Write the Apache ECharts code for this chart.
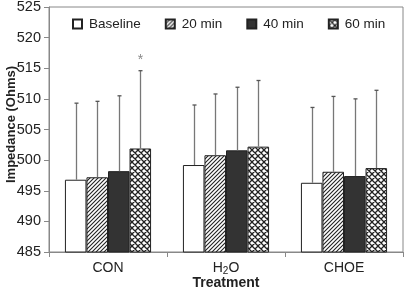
<!DOCTYPE html>
<html><head><meta charset="utf-8">
<script src="https://cdn.jsdelivr.net/npm/echarts@6/dist/echarts.min.js"></script>
<style>html,body{margin:0;padding:0;background:#fff}#c{width:405px;height:290px}</style>
</head><body><div id="c"></div>
<script>
// ---- data ----
const categories = ['CON', 'H2O', 'CHOE'];
const seriesNames = ['Baseline', '20 min', '40 min', '60 min'];
const baseline = [496.8, 499.2, 496.3];
const min20 = [497.2, 500.8, 498.1];
const min40 = [498.2, 501.6, 497.4];
const min60 = [501.9, 502.2, 498.7];
// upper end of error bars
const errBaseline = [509.3, 509.0, 508.6];
const err20 = [509.6, 510.8, 510.4];
const err40 = [510.5, 511.9, 510.0];
const err60 = [514.6, 513.0, 511.4];
const sig60 = ['*', '', ''];
const yTicks = { min: 485, max: 525, interval: 5 };

// ---- patterns ----
function makeHatch() {
  const c = document.createElement('canvas'); c.width = 4; c.height = 4;
  const g = c.getContext('2d');
  g.fillStyle = '#fff'; g.fillRect(0, 0, 4, 4);
  g.strokeStyle = '#222'; g.lineWidth = 1.1;
  g.beginPath();
  g.moveTo(-1, 5); g.lineTo(5, -1);
  g.moveTo(-1, 1); g.lineTo(1, -1);
  g.moveTo(3, 5); g.lineTo(5, 3);
  g.stroke();
  return { image: c, repeat: 'repeat' };
}
function makeCross() {
  const c = document.createElement('canvas'); c.width = 6; c.height = 6;
  const g = c.getContext('2d');
  g.fillStyle = '#fff'; g.fillRect(0, 0, 6, 6);
  g.strokeStyle = '#222'; g.lineWidth = 1.3;
  g.beginPath();
  g.moveTo(-1, 7); g.lineTo(7, -1);
  g.moveTo(-1, -1); g.lineTo(7, 7);
  g.moveTo(-1, 1); g.lineTo(1, -1);
  g.moveTo(5, 7); g.lineTo(7, 5);
  g.moveTo(5, -1); g.lineTo(7, 1);
  g.moveTo(-1, 5); g.lineTo(1, 7);
  g.stroke();
  return { image: c, repeat: 'repeat' };
}
const fills = ['#ffffff', makeHatch(), '#333333', makeCross()];
const means = [baseline, min20, min40, min60];
const errs = [errBaseline, err20, err40, err60];
const GAP = 0.27;

const chart = echarts.init(document.getElementById('c'), null, { renderer: 'canvas' });
const FONT = '"Liberation Sans", Arial, sans-serif';

const series = [];
seriesNames.forEach((name, s) => {
  series.push({
    name, type: 'bar', data: means[s], barGap: 0, barCategoryGap: (GAP * 100) + '%',
    itemStyle: { color: fills[s], borderColor: '#222', borderWidth: 1 },
    z: 2
  });
});
const errData = [];
seriesNames.forEach((name, s) => {
  categories.forEach((c, i) => errData.push([i, s, errs[s][i], means[s][i]]));
});
series.push({
  type: 'custom', z: 5, silent: true,
  data: errData,
  encode: { x: 0, y: 2 },
  renderItem(params, api) {
    const i = api.value(0), s = api.value(1), top = api.value(2), mean = api.value(3);
    const bandW = api.size([1, 0])[0];
    const bw = bandW * (1 - GAP) / 4;
    const p0 = api.coord([i, mean]);
    const p1 = api.coord([i, top]);
    const cx = Math.round(p0[0] + (s - 1.5) * bw) + 0.5;
    const children = [
      { type: 'line', shape: { x1: cx, y1: p0[1], x2: cx, y2: p1[1] }, style: { stroke: '#777', lineWidth: 1.3 } },
      { type: 'line', shape: { x1: cx - 2, y1: p1[1], x2: cx + 2, y2: p1[1] }, style: { stroke: '#555', lineWidth: 1.3 } }
    ];
    if (s === 3 && sig60[i]) {
      children.push({ type: 'text', x: cx, y: p1[1] - 11, style: { text: sig60[i], fill: '#888', font: '14px ' + FONT, align: 'center', verticalAlign: 'middle' } });
    }
    return { type: 'group', children };
  }
});

chart.setOption({
  animation: false,
  textStyle: { fontFamily: FONT },
  grid: { left: 49, right: 2, top: 7, bottom: 38, show: true, borderColor: '#888', borderWidth: 1, containLabel: false, outerBoundsMode: 'none' },
  legend: {
    data: seriesNames, left: 67, top: 12, itemWidth: 9, itemHeight: 9, itemGap: 24,
    icon: 'rect',
    textStyle: { fontSize: 13.5, color: '#222', fontFamily: FONT, padding: [0, 0, 0, 2] }
  },
  xAxis: {
    type: 'category', data: categories,
    name: 'Treatment', nameLocation: 'middle', nameGap: 24, nameMoveOverlap: false,
    nameTextStyle: { fontSize: 14, fontWeight: 'bold', color: '#222', fontFamily: FONT },
    axisLine: { lineStyle: { color: '#888' } },
    axisTick: { show: true, inside: false, length: 5, lineStyle: { color: '#888' } },
    axisLabel: {
      fontSize: 14, color: '#222', margin: 8,
      formatter: v => v === 'H2O' ? '{a|H}{s|2}{a|O}' : '{a|' + v + '}',
      rich: {
        a: { fontSize: 14, color: '#222', fontFamily: FONT, lineHeight: 16 },
        s: { fontSize: 10, color: '#222', fontFamily: FONT, lineHeight: 10, verticalAlign: 'bottom' }
      }
    }
  },
  yAxis: {
    type: 'value', min: yTicks.min, max: yTicks.max, interval: yTicks.interval,
    name: 'Impedance (Ohms)', nameLocation: 'middle', nameGap: 31, nameMoveOverlap: false,
    nameTextStyle: { fontSize: 13, fontWeight: 'bold', color: '#222', fontFamily: FONT, padding: [0, 0, 0, 10] },
    splitLine: { show: false },
    axisLine: { show: true, lineStyle: { color: '#888' } },
    axisTick: { show: true, length: 5, lineStyle: { color: '#888' } },
    axisLabel: { fontSize: 14.5, color: '#222', margin: 8 }
  },
  series
});
</script></body></html>
